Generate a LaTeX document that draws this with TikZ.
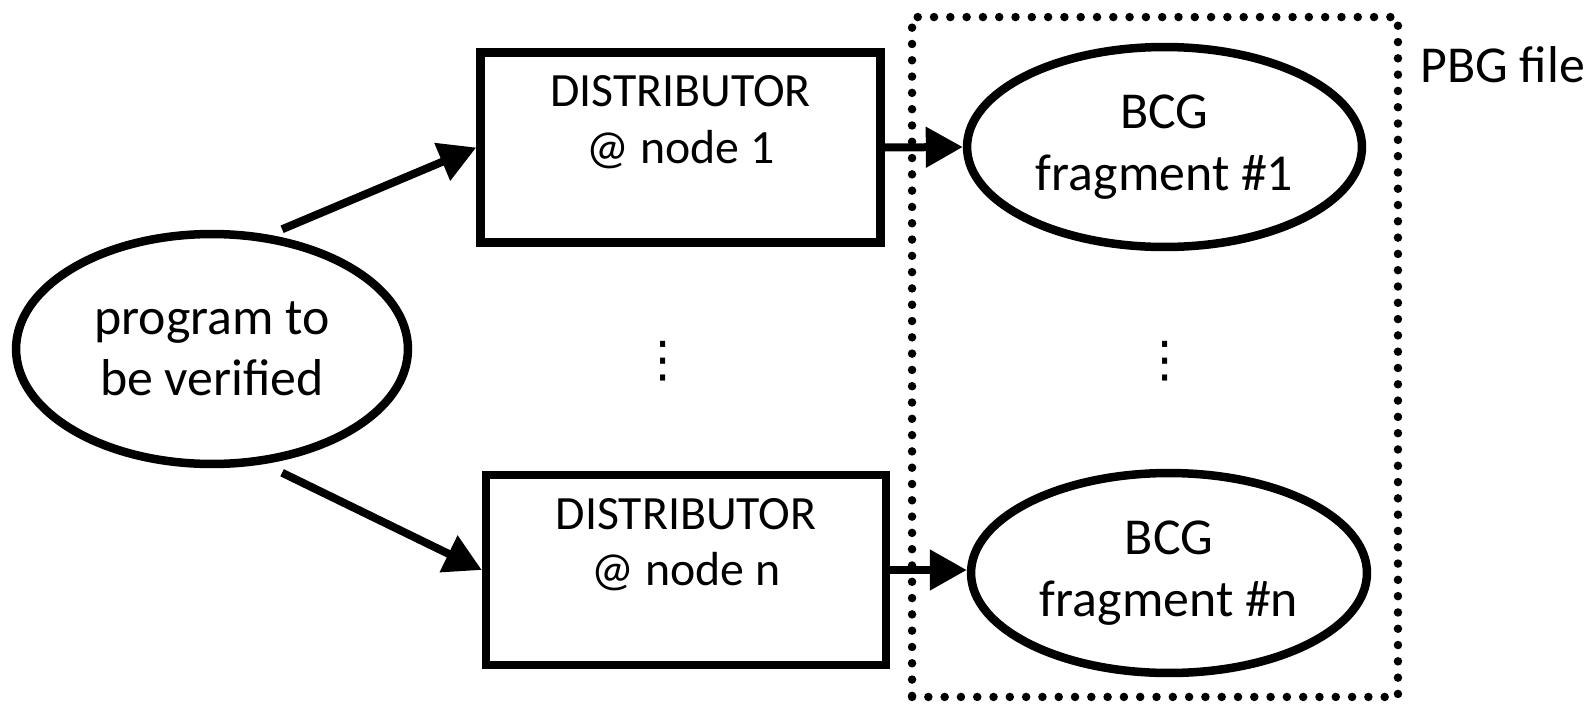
\documentclass[tikz,border=0pt]{standalone}
\usepackage{fontspec}
\setmainfont{Carlito}
\newfontfamily\dvs{DejaVu Sans}
\usetikzlibrary{positioning,arrows.meta,shapes.geometric}

\begin{document}
\begin{tikzpicture}[x=0.02cm, y=-0.02cm,
    ell/.style={ellipse, draw, line width=0.17cm, inner sep=0pt, align=center, font=\fontsize{29.5pt}{35pt}\selectfont},
    dbox/.style={rectangle, draw, line width=0.17cm, minimum width=8cm, minimum height=3.81cm, inner sep=0pt, align=center, font=\fontsize{27.2pt}{32pt}\selectfont},
    dots/.style={rectangle, draw, line width=0.17cm, dash pattern=on 0pt off 0.326cm, line cap=round, minimum width=9.72cm, minimum height=13.6cm, inner sep=0pt},
    vd/.style={inner sep=0pt, font=\dvs\fontsize{28pt}{30pt}\selectfont},
    a/.style={-{Triangle[length=0.74cm, width=0.78cm]}, line width=0.16cm}
]
    \useasboundingbox (0,0) rectangle (1591,703);
    \node[ell, minimum width=7.84cm, minimum height=4.6cm] (prog) at (212,349) {program to\\be verified};
    \node[dbox] (dist1) at (680.5,147.5) {DISTRIBUTOR\\@ node 1\\\mbox{}};
    \node[dbox] (distn) at (686,570) {DISTRIBUTOR\\@ node n\\\mbox{}};
    \node[vd] (vdl) at (663,361) {⋮};
    \node[dots] (pbg) at (1155,357) {};
    \node[anchor=base west, inner sep=0pt, font=\fontsize{29.5pt}{35pt}\selectfont] (pbglabel) at (1420,82) {PBG file};
    \node[ell, minimum width=7.9cm, minimum height=4cm] (frag1) at (1164.5,147) {BCG\\fragment \#1};
    \node[ell, minimum width=7.92cm, minimum height=4cm] (fragn) at (1169,573) {BCG\\fragment \#n};
    \node[vd] (vdr) at (1165,361) {⋮};
    \draw[a] ([shift={(5,-7)}]prog.60) -- (dist1.west);
    \draw[a] ([shift={(5,11)}]prog.-60) -- (distn.west);
    \draw[a] (dist1.east) -- (frag1.west);
    \draw[a] (distn.east) -- (distn.east -| fragn.west);
\end{tikzpicture}
\end{document}
